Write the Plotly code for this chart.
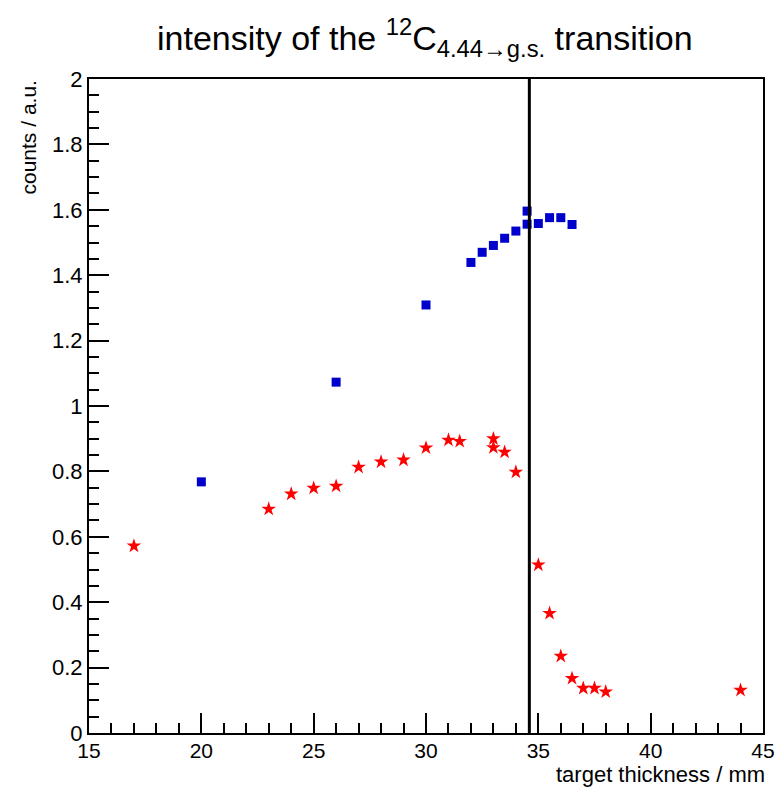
import plotly.graph_objects as go

# blue squares
blue_x = [20, 26, 30, 32, 32.5, 33, 33.5, 34, 34.5, 34.5, 35, 35.5, 36, 36.5]
blue_y = [0.768, 1.073, 1.309, 1.439, 1.470, 1.491, 1.513, 1.535, 1.596, 1.556, 1.558, 1.576, 1.576, 1.555]

# red stars
red_x = [17, 23, 24, 25, 26, 27, 28, 29, 30, 31, 31.5, 33, 33, 33.5, 34, 35, 35.5, 36, 36.5, 37, 37.5, 38, 44]
red_y = [0.572, 0.685, 0.731, 0.749, 0.755, 0.813, 0.829, 0.835, 0.872, 0.896, 0.892, 0.900, 0.873,
         0.859, 0.798, 0.514, 0.366, 0.235, 0.167, 0.137, 0.137, 0.126, 0.131]

vline_x = 34.6

title_text = "intensity of the <sup>12</sup>C<sub>4.44\u2192g.s.</sub> transition"
x_title = "target thickness / mm"
y_title = "counts / a.u."

FONT = "Liberation Sans, Arial, sans-serif"

fig = go.Figure()
fig.add_trace(go.Scatter(x=red_x, y=red_y, mode="markers",
                         marker=dict(symbol="star", size=11, color="#ff0000", line=dict(width=0)),
                         showlegend=False))
fig.add_trace(go.Scatter(x=blue_x, y=blue_y, mode="markers",
                         marker=dict(symbol="square", size=9, color="#0000cc", line=dict(width=0)),
                         showlegend=False))
fig.add_vline(x=vline_x, line=dict(color="black", width=3))

fig.update_layout(
    width=778, height=789,
    margin=dict(l=89, r=15, t=79, b=56, autoexpand=False),
    paper_bgcolor="white", plot_bgcolor="white",
    font=dict(family=FONT, color="black", size=22),
    title=dict(text=title_text, x=0.546, xanchor="center", y=0.952, yanchor="middle",
               font=dict(size=34, family=FONT)),
    xaxis=dict(range=[15, 45], showgrid=False, zeroline=False, automargin=False,
               showline=True, linecolor="black", linewidth=2, mirror=True,
               ticks="inside", ticklen=20, tickwidth=1.5, tickcolor="black",
               dtick=5, tick0=15, tickfont=dict(size=21), ticklabelstandoff=-2,
               minor=dict(ticks="inside", ticklen=10, dtick=1, tickwidth=1.5, tickcolor="black", showgrid=False)),
    yaxis=dict(range=[0, 2], showgrid=False, zeroline=False, automargin=False,
               showline=True, linecolor="black", linewidth=2, mirror=True,
               ticks="inside", ticklen=20, tickwidth=1.5, tickcolor="black",
               dtick=0.2, tick0=0, tickfont=dict(size=22),
               tickformat="~g",
               minor=dict(ticks="inside", ticklen=10, dtick=0.05, tickwidth=1.5, tickcolor="black", showgrid=False)),
    annotations=[
        dict(text=x_title, xref="paper", yref="paper", x=1.0, y=0, xanchor="right", yanchor="top",
             yshift=-27, xshift=4, showarrow=False, font=dict(size=22, family=FONT)),
        dict(text=y_title, xref="paper", yref="paper", x=0, y=1.0, xanchor="right", yanchor="top",
             xshift=-48, textangle=-90, showarrow=False, font=dict(size=21, family=FONT)),
    ],
)

fig.write_html("out.html", config={"displayModeBar": False},
               post_script="document.body.style.margin='0';document.body.style.overflow='hidden';")
